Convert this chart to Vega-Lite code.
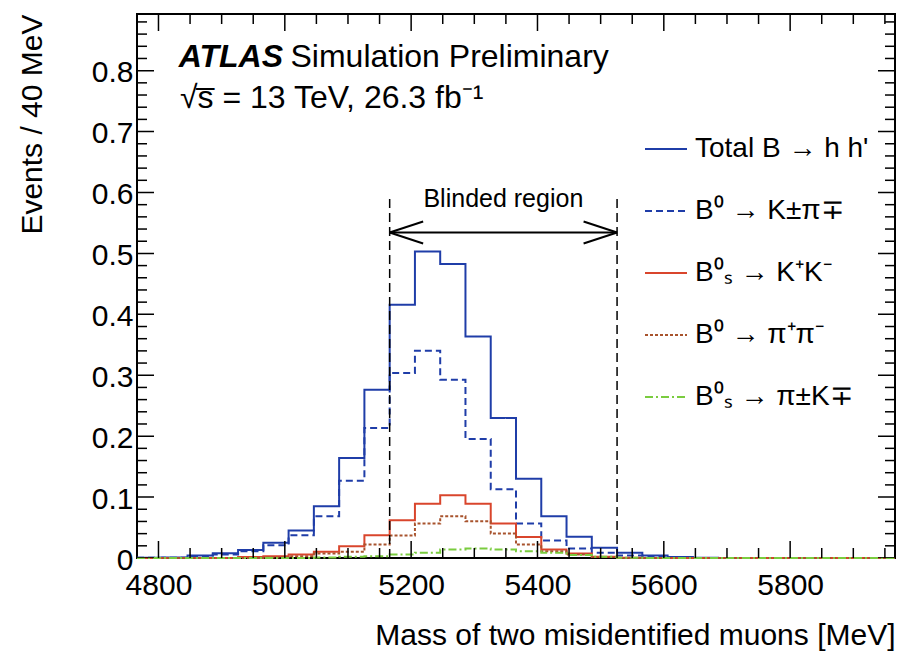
{
  "$schema": "https://vega.github.io/schema/vega-lite/v6.json",
  "width": 758,
  "height": 544,
  "autosize": {"type": "none"},
  "padding": {"left": 137, "top": 14, "right": 2, "bottom": 93},
  "background": "white",
  "datasets": {
    "xt": [
      {"t": 4800, "k": "major", "lo": 0, "hi": 0.893}, {"t": 4850, "k": "minor", "lo": 0, "hi": 0.893}, {"t": 4900, "k": "minor", "lo": 0, "hi": 0.893}, {"t": 4950, "k": "minor", "lo": 0, "hi": 0.893},
      {"t": 5000, "k": "major", "lo": 0, "hi": 0.893}, {"t": 5050, "k": "minor", "lo": 0, "hi": 0.893}, {"t": 5100, "k": "minor", "lo": 0, "hi": 0.893}, {"t": 5150, "k": "minor", "lo": 0, "hi": 0.893},
      {"t": 5200, "k": "major", "lo": 0, "hi": 0.893}, {"t": 5250, "k": "minor", "lo": 0, "hi": 0.893}, {"t": 5300, "k": "minor", "lo": 0, "hi": 0.893}, {"t": 5350, "k": "minor", "lo": 0, "hi": 0.893},
      {"t": 5400, "k": "major", "lo": 0, "hi": 0.893}, {"t": 5450, "k": "minor", "lo": 0, "hi": 0.893}, {"t": 5500, "k": "minor", "lo": 0, "hi": 0.893}, {"t": 5550, "k": "minor", "lo": 0, "hi": 0.893},
      {"t": 5600, "k": "major", "lo": 0, "hi": 0.893}, {"t": 5650, "k": "minor", "lo": 0, "hi": 0.893}, {"t": 5700, "k": "minor", "lo": 0, "hi": 0.893}, {"t": 5750, "k": "minor", "lo": 0, "hi": 0.893},
      {"t": 5800, "k": "major", "lo": 0, "hi": 0.893}, {"t": 5850, "k": "minor", "lo": 0, "hi": 0.893}, {"t": 5900, "k": "minor", "lo": 0, "hi": 0.893}, {"t": 5950, "k": "minor", "lo": 0, "hi": 0.893}
    ],
    "yt": [
      {"t": 0, "k": "major", "lo": 4766, "hi": 5966}, {"t": 0.02, "k": "minor", "lo": 4766, "hi": 5966}, {"t": 0.04, "k": "minor", "lo": 4766, "hi": 5966}, {"t": 0.06, "k": "minor", "lo": 4766, "hi": 5966}, {"t": 0.08, "k": "minor", "lo": 4766, "hi": 5966},
      {"t": 0.1, "k": "major", "lo": 4766, "hi": 5966}, {"t": 0.12, "k": "minor", "lo": 4766, "hi": 5966}, {"t": 0.14, "k": "minor", "lo": 4766, "hi": 5966}, {"t": 0.16, "k": "minor", "lo": 4766, "hi": 5966}, {"t": 0.18, "k": "minor", "lo": 4766, "hi": 5966},
      {"t": 0.2, "k": "major", "lo": 4766, "hi": 5966}, {"t": 0.22, "k": "minor", "lo": 4766, "hi": 5966}, {"t": 0.24, "k": "minor", "lo": 4766, "hi": 5966}, {"t": 0.26, "k": "minor", "lo": 4766, "hi": 5966}, {"t": 0.28, "k": "minor", "lo": 4766, "hi": 5966},
      {"t": 0.3, "k": "major", "lo": 4766, "hi": 5966}, {"t": 0.32, "k": "minor", "lo": 4766, "hi": 5966}, {"t": 0.34, "k": "minor", "lo": 4766, "hi": 5966}, {"t": 0.36, "k": "minor", "lo": 4766, "hi": 5966}, {"t": 0.38, "k": "minor", "lo": 4766, "hi": 5966},
      {"t": 0.4, "k": "major", "lo": 4766, "hi": 5966}, {"t": 0.42, "k": "minor", "lo": 4766, "hi": 5966}, {"t": 0.44, "k": "minor", "lo": 4766, "hi": 5966}, {"t": 0.46, "k": "minor", "lo": 4766, "hi": 5966}, {"t": 0.48, "k": "minor", "lo": 4766, "hi": 5966},
      {"t": 0.5, "k": "major", "lo": 4766, "hi": 5966}, {"t": 0.52, "k": "minor", "lo": 4766, "hi": 5966}, {"t": 0.54, "k": "minor", "lo": 4766, "hi": 5966}, {"t": 0.56, "k": "minor", "lo": 4766, "hi": 5966}, {"t": 0.58, "k": "minor", "lo": 4766, "hi": 5966},
      {"t": 0.6, "k": "major", "lo": 4766, "hi": 5966}, {"t": 0.62, "k": "minor", "lo": 4766, "hi": 5966}, {"t": 0.64, "k": "minor", "lo": 4766, "hi": 5966}, {"t": 0.66, "k": "minor", "lo": 4766, "hi": 5966}, {"t": 0.68, "k": "minor", "lo": 4766, "hi": 5966},
      {"t": 0.7, "k": "major", "lo": 4766, "hi": 5966}, {"t": 0.72, "k": "minor", "lo": 4766, "hi": 5966}, {"t": 0.74, "k": "minor", "lo": 4766, "hi": 5966}, {"t": 0.76, "k": "minor", "lo": 4766, "hi": 5966}, {"t": 0.78, "k": "minor", "lo": 4766, "hi": 5966},
      {"t": 0.8, "k": "major", "lo": 4766, "hi": 5966}, {"t": 0.82, "k": "minor", "lo": 4766, "hi": 5966}, {"t": 0.84, "k": "minor", "lo": 4766, "hi": 5966}, {"t": 0.86, "k": "minor", "lo": 4766, "hi": 5966}, {"t": 0.88, "k": "minor", "lo": 4766, "hi": 5966}
    ]
  },
  "config": {
    "view": {"stroke": "black", "strokeWidth": 2},
    "font": "Liberation Sans",
    "axis": {
      "domain": false, "grid": false,
      "labelColor": "black", "titleColor": "black",
      "labelFont": "Liberation Sans", "titleFont": "Liberation Sans",
      "labelFontSize": 30, "titleFontSize": 30, "titleFontWeight": "normal",
      "labelFlush": false, "labelOverlap": false
    }
  },
  "resolve": {"axis": {"x": "independent", "y": "independent"}},
  "layer": [
    {
      "data": {"values": [
        {"m": 4766, "tot": 0.0005, "kpi": 0.0003, "kk": 0, "pipi": 0, "pik": 0},
        {"m": 4806, "tot": 0.001, "kpi": 0.0005, "kk": 0, "pipi": 0, "pik": 0},
        {"m": 4846, "tot": 0.004, "kpi": 0.002, "kk": 0, "pipi": 0, "pik": 0},
        {"m": 4886, "tot": 0.008, "kpi": 0.0057, "kk": 0, "pipi": 0, "pik": 0},
        {"m": 4926, "tot": 0.013, "kpi": 0.011, "kk": 0.0015, "pipi": 0, "pik": 0},
        {"m": 4966, "tot": 0.025, "kpi": 0.021, "kk": 0.003, "pipi": 0.001, "pik": 0},
        {"m": 5006, "tot": 0.045, "kpi": 0.0374, "kk": 0.0057, "pipi": 0.003, "pik": 0},
        {"m": 5046, "tot": 0.085, "kpi": 0.0686, "kk": 0.0102, "pipi": 0.0074, "pik": 0.001},
        {"m": 5086, "tot": 0.1643, "kpi": 0.127, "kk": 0.0194, "pipi": 0.0102, "pik": 0.002},
        {"m": 5126, "tot": 0.2763, "kpi": 0.2135, "kk": 0.0374, "pipi": 0.0221, "pik": 0.003},
        {"m": 5166, "tot": 0.4157, "kpi": 0.3037, "kk": 0.062, "pipi": 0.0369, "pik": 0.0057},
        {"m": 5206, "tot": 0.503, "kpi": 0.3403, "kk": 0.0889, "pipi": 0.0566, "pik": 0.0085},
        {"m": 5246, "tot": 0.4825, "kpi": 0.2927, "kk": 0.103, "pipi": 0.0686, "pik": 0.014},
        {"m": 5286, "tot": 0.3638, "kpi": 0.1955, "kk": 0.0889, "pipi": 0.0604, "pik": 0.0156},
        {"m": 5326, "tot": 0.23, "kpi": 0.113, "kk": 0.0566, "pipi": 0.0402, "pik": 0.014},
        {"m": 5366, "tot": 0.13, "kpi": 0.0566, "kk": 0.0344, "pipi": 0.0221, "pik": 0.0112},
        {"m": 5406, "tot": 0.0686, "kpi": 0.0287, "kk": 0.014, "pipi": 0.0112, "pik": 0.0085},
        {"m": 5446, "tot": 0.0348, "kpi": 0.0156, "kk": 0.0074, "pipi": 0.0057, "pik": 0.005},
        {"m": 5486, "tot": 0.0167, "kpi": 0.0085, "kk": 0.002, "pipi": 0.0015, "pik": 0.002},
        {"m": 5526, "tot": 0.0085, "kpi": 0.004, "kk": 0.0005, "pipi": 0, "pik": 0.0005},
        {"m": 5566, "tot": 0.004, "kpi": 0.0015, "kk": 0, "pipi": 0, "pik": 0},
        {"m": 5606, "tot": 0.0015, "kpi": 0.0005, "kk": 0, "pipi": 0, "pik": 0},
        {"m": 5646, "tot": 0.0005, "kpi": 0, "kk": 0, "pipi": 0, "pik": 0},
        {"m": 5686, "tot": 0, "kpi": 0, "kk": 0, "pipi": 0, "pik": 0},
        {"m": 5726, "tot": 0, "kpi": 0, "kk": 0, "pipi": 0, "pik": 0},
        {"m": 5766, "tot": 0, "kpi": 0, "kk": 0, "pipi": 0, "pik": 0},
        {"m": 5806, "tot": 0, "kpi": 0, "kk": 0, "pipi": 0, "pik": 0},
        {"m": 5846, "tot": 0, "kpi": 0, "kk": 0, "pipi": 0, "pik": 0},
        {"m": 5886, "tot": 0, "kpi": 0, "kk": 0, "pipi": 0, "pik": 0},
        {"m": 5926, "tot": 0, "kpi": 0, "kk": 0, "pipi": 0, "pik": 0},
        {"m": 5966, "tot": 0, "kpi": 0, "kk": 0, "pipi": 0, "pik": 0}
      ]},
      "transform": [{"fold": ["tot", "kpi", "kk", "pipi", "pik"], "as": ["series", "v"]}],
      "mark": {"type": "line", "interpolate": "step-after", "strokeWidth": 2},
      "encoding": {
        "x": {"field": "m", "type": "quantitative",
          "scale": {"domain": [4766, 5966], "nice": false, "zero": false},
          "axis": {"orient": "bottom", "values": [4800, 5000, 5200, 5400, 5600, 5800], "format": "d",
            "ticks": false, "labelPadding": 12,
            "title": "Mass of two misidentified muons [MeV]", "titleAnchor": "end", "titlePadding": 20}},
        "y": {"field": "v", "type": "quantitative",
          "scale": {"domain": [0, 0.893], "nice": false, "zero": false},
          "axis": {"orient": "left", "values": [0, 0.1, 0.2, 0.3, 0.4, 0.5, 0.6, 0.7, 0.8], "format": ".1~f",
            "ticks": false, "labelPadding": 4, "labelOffset": 2,
            "title": "Events / 40 MeV", "titleAnchor": "end", "titlePadding": 44}},
        "color": {"field": "series", "type": "nominal",
          "scale": {"domain": ["tot", "kpi", "kk", "pipi", "pik"], "range": ["#1f3da8", "#1f3da8", "#d9452c", "#a8532d", "#7acc3f"]},
          "legend": {"title": null, "orient": "none", "legendX": 507, "legendY": 113, "padding": 0,
            "symbolType": "stroke", "symbolSize": 1764, "symbolStrokeWidth": 2,
            "labelFont": "Liberation Sans", "labelFontSize": 28, "labelColor": "black", "labelOffset": 7,
            "rowPadding": 26, "labelLimit": 400,
            "labelExpr": "datum.label == 'tot' ? \"Total B → h h'\" : datum.label == 'kpi' ? 'B⁰ → K±π∓' : datum.label == 'kk' ? 'B⁰ₛ → K⁺K⁻' : datum.label == 'pipi' ? 'B⁰ → π⁺π⁻' : 'B⁰ₛ → π±K∓'"}},
        "strokeDash": {"field": "series", "type": "nominal",
          "scale": {"domain": ["tot", "kpi", "kk", "pipi", "pik"], "range": [[1, 0], [7, 4], [1, 0], [3, 2], [8, 3, 2, 3]]},
          "legend": {"title": null, "orient": "none", "legendX": 507, "legendY": 113, "padding": 0,
            "symbolType": "stroke", "symbolSize": 1764, "symbolStrokeWidth": 2,
            "labelFont": "Liberation Sans", "labelFontSize": 28, "labelColor": "black", "labelOffset": 7,
            "rowPadding": 26, "labelLimit": 400,
            "labelExpr": "datum.label == 'tot' ? \"Total B → h h'\" : datum.label == 'kpi' ? 'B⁰ → K±π∓' : datum.label == 'kk' ? 'B⁰ₛ → K⁺K⁻' : datum.label == 'pipi' ? 'B⁰ → π⁺π⁻' : 'B⁰ₛ → π±K∓'"}}
      }
    },
    {
      "data": {"name": "xt"},
      "mark": {"type": "tick", "orient": "vertical", "clip": true, "thickness": 1.5, "color": "black", "opacity": 1},
      "encoding": {
        "x": {"field": "t", "type": "quantitative", "axis": null},
        "y": {"field": "lo", "type": "quantitative", "axis": null},
        "size": {"field": "k", "type": "ordinal", "scale": {"domain": ["major", "minor"], "range": [34, 20]}, "legend": null}
      }
    },
    {
      "data": {"name": "xt"},
      "mark": {"type": "tick", "orient": "vertical", "clip": true, "thickness": 1.5, "color": "black", "opacity": 1},
      "encoding": {
        "x": {"field": "t", "type": "quantitative", "axis": null},
        "y": {"field": "hi", "type": "quantitative", "axis": null},
        "size": {"field": "k", "type": "ordinal", "scale": {"domain": ["major", "minor"], "range": [34, 20]}, "legend": null}
      }
    },
    {
      "data": {"name": "yt"},
      "mark": {"type": "tick", "orient": "horizontal", "clip": true, "thickness": 1.5, "color": "black", "opacity": 1},
      "encoding": {
        "y": {"field": "t", "type": "quantitative", "axis": null},
        "x": {"field": "lo", "type": "quantitative", "axis": null},
        "size": {"field": "k", "type": "ordinal", "scale": {"domain": ["major", "minor"], "range": [48, 28]}, "legend": null}
      }
    },
    {
      "data": {"name": "yt"},
      "mark": {"type": "tick", "orient": "horizontal", "clip": true, "thickness": 1.5, "color": "black", "opacity": 1},
      "encoding": {
        "y": {"field": "t", "type": "quantitative", "axis": null},
        "x": {"field": "hi", "type": "quantitative", "axis": null},
        "size": {"field": "k", "type": "ordinal", "scale": {"domain": ["major", "minor"], "range": [32, 20]}, "legend": null}
      }
    },
    {
      "data": {"values": [{"b": 5166, "lo": 0, "hi": 0.596}, {"b": 5526, "lo": 0, "hi": 0.596}]},
      "mark": {"type": "rule", "strokeDash": [9, 5], "strokeWidth": 1.5, "color": "black"},
      "encoding": {
        "x": {"field": "b", "type": "quantitative", "axis": null},
        "y": {"field": "lo", "type": "quantitative", "axis": null},
        "y2": {"field": "hi"}
      }
    },
    {
      "data": {"values": [
        {"a": 5166, "a2": 5526, "b": 0.5343, "b2": 0.5343},
        {"a": 5166, "a2": 5219, "b": 0.5343, "b2": 0.5524},
        {"a": 5166, "a2": 5219, "b": 0.5343, "b2": 0.5162},
        {"a": 5526, "a2": 5473, "b": 0.5343, "b2": 0.5524},
        {"a": 5526, "a2": 5473, "b": 0.5343, "b2": 0.5162}
      ]},
      "mark": {"type": "rule", "strokeWidth": 2, "color": "black"},
      "encoding": {
        "x": {"field": "a", "type": "quantitative", "axis": null},
        "x2": {"field": "a2"},
        "y": {"field": "b", "type": "quantitative", "axis": null},
        "y2": {"field": "b2"}
      }
    },
    {
      "data": {"values": [
        {"tx": 5009, "ty": 0.8066, "label": "Simulation Preliminary"},
        {"tx": 4834, "ty": 0.7388, "label": "√s̅ = 13 TeV, 26.3 fb⁻¹"}
      ]},
      "mark": {"type": "text", "align": "left", "baseline": "alphabetic", "fontSize": 32, "font": "Liberation Sans", "color": "black"},
      "encoding": {
        "x": {"field": "tx", "type": "quantitative", "axis": null},
        "y": {"field": "ty", "type": "quantitative", "axis": null},
        "text": {"field": "label"}
      }
    },
    {
      "data": {"values": [{"tx": 4832, "ty": 0.8066, "label": "ATLAS"}]},
      "mark": {"type": "text", "align": "left", "baseline": "alphabetic", "fontSize": 32, "fontWeight": "bold", "fontStyle": "italic", "font": "Liberation Sans", "color": "black"},
      "encoding": {
        "x": {"field": "tx", "type": "quantitative", "axis": null},
        "y": {"field": "ty", "type": "quantitative", "axis": null},
        "text": {"field": "label"}
      }
    },
    {
      "data": {"values": [{"tx": 5346, "ty": 0.577, "label": "Blinded region"}]},
      "mark": {"type": "text", "align": "center", "baseline": "alphabetic", "fontSize": 25, "font": "Liberation Sans", "color": "black"},
      "encoding": {
        "x": {"field": "tx", "type": "quantitative", "axis": null},
        "y": {"field": "ty", "type": "quantitative", "axis": null},
        "text": {"field": "label"}
      }
    }
  ]
}
